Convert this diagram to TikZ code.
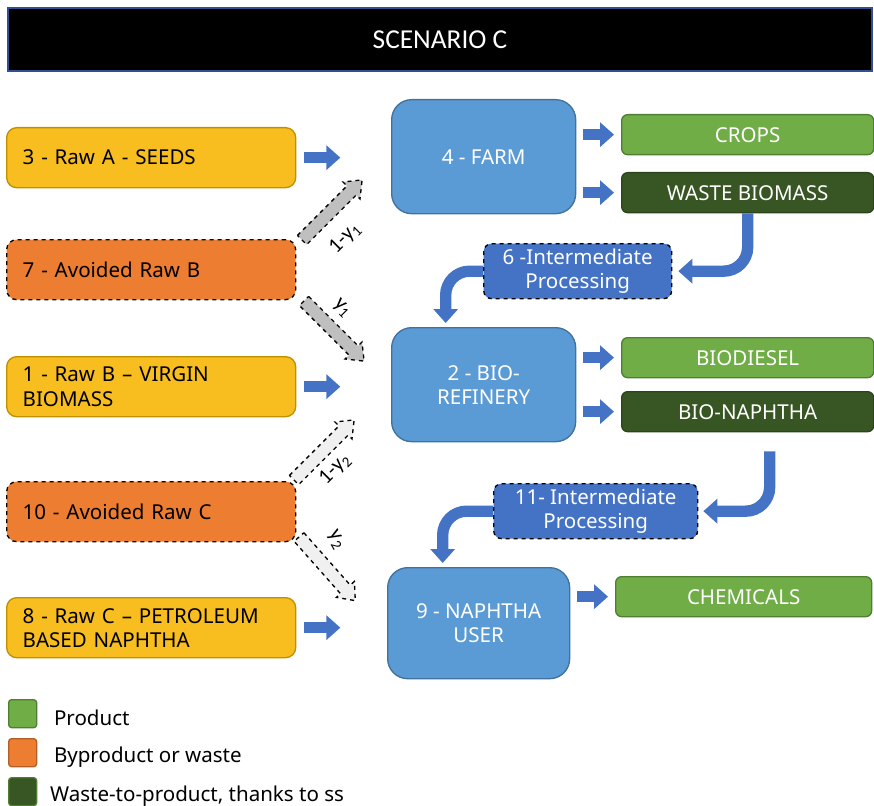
\documentclass[tikz,border=0pt]{standalone}
\usepackage{fontspec}
\setmainfont{Noto Sans}
\newfontfamily\titlefont{Carlito}
\usetikzlibrary{arrows.meta}
\definecolor{rawyel}{HTML}{F8BE1F}
\definecolor{rawyeld}{HTML}{BF9000}
\definecolor{byorange}{HTML}{ED7D31}
\definecolor{unitblue}{HTML}{5B9BD5}
\definecolor{unitblued}{HTML}{41719C}
\definecolor{prodgreen}{HTML}{70AD47}
\definecolor{prodgreend}{HTML}{507E32}
\definecolor{wastegreen}{HTML}{375623}
\definecolor{flowblue}{HTML}{4472C4}
\definecolor{flowblued}{HTML}{2F528F}
\newlength\pxu
\setlength\pxu{0.75pt}
\tikzset{
  txt/.style={font=\fontsize{15.4}{18}\selectfont},
  titlebar/.style={draw=flowblued, fill=black, text=white, line width=1.2pt, minimum width=864\pxu, minimum height=63\pxu, font=\titlefont\fontsize{20.5}{24}\selectfont},
  rawbox/.style={txt, draw=rawyeld, fill=rawyel, line width=1pt, rounded corners=10\pxu, anchor=north west, text width=257\pxu, inner xsep=16\pxu, minimum height=60\pxu, align=left},
  avoidbox/.style={rawbox, fill=byorange, draw=black, dashed},
  unitbox/.style={txt, draw=unitblued, fill=unitblue, text=white, line width=1pt, rounded corners=20\pxu, anchor=north west, minimum width=184\pxu, minimum height=114\pxu, align=center},
  prodbox/.style={txt, draw=prodgreend, fill=prodgreen, text=white, line width=1pt, rounded corners=6\pxu, anchor=north west, minimum width=252\pxu, minimum height=40\pxu},
  wastebox/.style={prodbox, fill=wastegreen, draw=wastegreen!80!black},
  interbox/.style={txt, draw=black, dashed, fill=flowblue, text=white, line width=1pt, rounded corners=8\pxu, anchor=north west, align=center, inner sep=0pt},
  blockarrow/.style={draw=flowblue, line width=8.5pt, -{Triangle[length=10.5pt, width=18pt]}},
  sharearrow/.pic={\draw[black, dashed, line width=1pt, fill=#1] (0,-6.5) -- (70,-6.5) -- (70,-12) -- (85,0) -- (70,12) -- (70,6.5) -- (0,6.5) -- cycle;},
  share/.style={font=\titlefont\fontsize{16}{18}\selectfont},
  legendbox/.style={draw, line width=1pt, rounded corners=3\pxu, anchor=north west, minimum size=28\pxu, inner sep=0pt},
}
\begin{document}
\begin{tikzpicture}[x=1\pxu,y=-1\pxu]
\useasboundingbox (0,0) rectangle (874,806);
\node[titlebar] (title) at (440,39.5) {SCENARIO C};
% raw materials and avoided flows
\node[rawbox] (seeds) at (6,127) {3 - Raw A - SEEDS};
\node[avoidbox] (avb) at (6,239) {7 - Avoided Raw B};
\node[rawbox] (virgin) at (6,356) {1 - Raw B – VIRGIN\\BIOMASS};
\node[avoidbox] (avc) at (6,481) {10 - Avoided Raw C};
\node[rawbox] (petro) at (6,597) {8 - Raw C – PETROLEUM\\BASED NAPHTHA};
% units
\node[unitbox] (farm) at (391,99) {4 - FARM};
\node[unitbox] (refinery) at (391,327) {2 - BIO-\\REFINERY};
\node[unitbox, minimum width=182\pxu, minimum height=111\pxu] (nuser) at (387,567) {9 - NAPHTHA\\USER};
\node[interbox, minimum width=188\pxu, minimum height=55\pxu] (inter6) at (483,243) {6 -Intermediate\\Processing};
\node[interbox, minimum width=204\pxu, minimum height=55\pxu] (inter11) at (493,483) {11- Intermediate\\Processing};
% outputs
\node[prodbox] (crops) at (621,114) {CROPS};
\node[wastebox] (wastebio) at (621,172) {WASTE BIOMASS};
\node[prodbox] (biodiesel) at (621,337) {BIODIESEL};
\node[wastebox] (bionaphtha) at (621,391) {BIO-NAPHTHA};
\node[prodbox, minimum width=256\pxu] (chem) at (615,576) {CHEMICALS};
% flows
\draw[blockarrow] ([xshift=8\pxu]seeds.east) -- ++(36,0);
\draw[blockarrow] ([xshift=8\pxu]virgin.east) -- ++(36,0);
\draw[blockarrow] ([xshift=8\pxu]petro.east) -- ++(36,0);
\draw[blockarrow] ([xshift=7\pxu]farm.east |- crops.west) -- ([xshift=-7\pxu]crops.west);
\draw[blockarrow] ([xshift=7\pxu]farm.east |- wastebio.west) -- ([xshift=-7\pxu]wastebio.west);
\draw[blockarrow] ([xshift=7\pxu]refinery.east |- biodiesel.west) -- ([xshift=-7\pxu]biodiesel.west);
\draw[blockarrow] ([xshift=7\pxu]refinery.east |- bionaphtha.west) -- ([xshift=-7\pxu]bionaphtha.west);
\draw[blockarrow] ([xshift=7\pxu]nuser.east |- chem.west) -- ([xshift=-7\pxu]chem.west);
\draw[blockarrow, rounded corners=18pt] (wastebio.south) |- ([xshift=6\pxu]inter6.east);
\draw[blockarrow, rounded corners=18pt] (inter6.west) -| ([shift={(-38,-4)}]refinery.north);
\draw[blockarrow, rounded corners=18pt] ([shift={(22,19)}]bionaphtha.south) |- ([xshift=5\pxu]inter11.east);
\draw[blockarrow, rounded corners=18pt] (inter11.west) -| ([shift={(-36,-4)}]nuser.north);
% shares of the avoided flows
\pic[rotate=45] at (302,240) {sharearrow=gray!50};
\pic[rotate=-45] at (304,301) {sharearrow=gray!50};
\pic[rotate=45] at (294,480) {sharearrow=gray!12};
\pic[rotate=-48.5] at (299,537) {sharearrow=gray!12};
\node[share, rotate=45] (s1) at (345,238) {1-y\textsubscript{1}};
\node[share, rotate=-45] (s2) at (342,308) {y\textsubscript{1}};
\node[share, rotate=45] (s3) at (335,469) {1-y\textsubscript{2}};
\node[share, rotate=-60] (s4) at (336,540) {y\textsubscript{2}};
% legend
\node[legendbox, fill=prodgreen, draw=prodgreend] (lg1) at (8,699) {};
\node[legendbox, fill=byorange, draw=byorange!75!black] (lg2) at (8,738) {};
\node[legendbox, fill=wastegreen, draw=prodgreend] (lg3) at (8,777) {};
\node[txt, anchor=west] (lt1) at ([shift={(12,4)}]lg1.east) {Product};
\node[txt, anchor=west] (lt2) at ([shift={(12,4)}]lg2.east) {Byproduct or waste};
\node[txt, anchor=west] (lt3) at ([shift={(8,4)}]lg3.east) {Waste-to-product, thanks to ss};
\end{tikzpicture}
\end{document}
